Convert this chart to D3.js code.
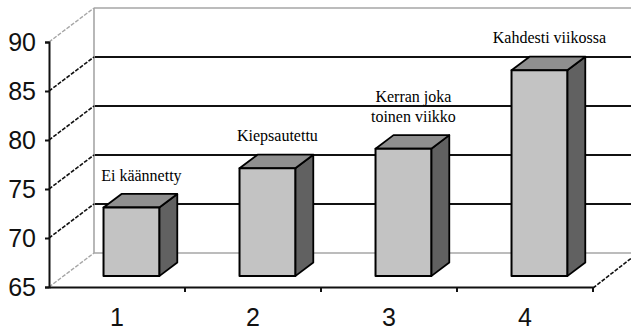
<!DOCTYPE html>
<html>
<head>
<meta charset="utf-8">
<script src="https://cdn.jsdelivr.net/npm/d3@7/dist/d3.min.js"></script>
<style>
  html, body { margin: 0; padding: 0; background: #fff; }
  svg { display: block; }
  .bar-label { font-family: "Liberation Serif", "Times New Roman", serif; font-size: 16px; }
  .axis-label { font-family: "Liberation Sans", Arial, sans-serif; font-size: 25px; }
</style>
</head>
<body>
<svg id="chart" width="631" height="332"></svg>
<script>
// Chart data
const categories = ["1", "2", "3", "4"];
const values = [72, 76, 78, 86];
const barLabels = [
  ["Ei käännetty"],
  ["Kiepsautettu"],
  ["Kerran joka", "toinen viikko"],
  ["Kahdesti viikossa"]
];
const yTicks = [65, 70, 75, 80, 85, 90];

// Layout
const W = 631, H = 332;
const axisLeft = 49, axisRight = 593;
const depthX = 45, depthY = -34;   // offset from front plane to back wall
const barFront = 0.32, barBack = 0.72; // bar depth as fraction of floor depth
const barWidthFrac = 0.41;

const svg = d3.select("#chart");

const x = d3.scaleBand().domain(categories).range([axisLeft, axisRight]);
const y = d3.scaleLinear().domain([65, 90]).range([287, 42]);

const depth = (p, f) => [p[0] + depthX * f, p[1] + depthY * f];

const gridGray = "#a6a6a6";
const lineBlack = "#111";

// Back wall gridlines
const gBack = svg.append("g");
yTicks.forEach(t => {
  const edge = (t === 65 || t === 90);
  const p = depth([axisLeft, y(t)], 1);
  gBack.append("line")
    .attr("x1", p[0]).attr("y1", p[1])
    .attr("x2", W + 10).attr("y2", p[1])
    .attr("stroke", edge ? gridGray : lineBlack)
    .attr("stroke-width", edge ? 1.6 : 2);
});
// Back wall left edge
{
  const pTop = depth([axisLeft, y(90)], 1);
  const pBot = depth([axisLeft, y(65)], 1);
  gBack.append("line")
    .attr("x1", pTop[0]).attr("y1", pTop[1])
    .attr("x2", pBot[0]).attr("y2", pBot[1])
    .attr("stroke", gridGray).attr("stroke-width", 1.6);
}
// Side wall diagonals
yTicks.forEach(t => {
  const edge = (t === 65 || t === 90);
  const p0 = [axisLeft, y(t)];
  const p1 = depth(p0, 1);
  gBack.append("line")
    .attr("x1", p0[0]).attr("y1", p0[1])
    .attr("x2", p1[0]).attr("y2", p1[1])
    .attr("stroke", edge ? gridGray : lineBlack)
    .attr("stroke-width", edge ? 1.4 : 1.6)
    .attr("stroke-dasharray", "4,1.5");
});
// Floor right edge
{
  const p0 = [axisRight, y(65)];
  const p1 = depth(p0, 1);
  gBack.append("line")
    .attr("x1", p0[0]).attr("y1", p0[1] + 1)
    .attr("x2", p1[0]).attr("y2", p1[1])
    .attr("stroke", lineBlack).attr("stroke-width", 1.6)
    .attr("stroke-dasharray", "4,1.5");
}

// Bars
const gBars = svg.append("g");
const faceStroke = "#000";
categories.forEach((c, i) => {
  const v = values[i];
  const bw = x.bandwidth() * barWidthFrac;
  const cx = x(c) + x.bandwidth() / 2;
  const fl = depth([cx - bw / 2, y(v)], barFront);
  const fr = depth([cx + bw / 2, y(v)], barFront);
  const flb = depth([cx - bw / 2, y(65)], barFront);
  const frb = depth([cx + bw / 2, y(65)], barFront);
  const d = barBack - barFront;
  const bl = depth(fl, d), br = depth(fr, d), brb = depth(frb, d);

  // side face
  gBars.append("polygon")
    .attr("points", [fr, br, brb, frb].map(p => p.join(",")).join(" "))
    .attr("fill", "#616161").attr("stroke", faceStroke)
    .attr("stroke-width", 1.8).attr("stroke-linejoin", "round");
  // top face
  gBars.append("polygon")
    .attr("points", [fl, fr, br, bl].map(p => p.join(",")).join(" "))
    .attr("fill", "#8f8f8f").attr("stroke", faceStroke)
    .attr("stroke-width", 1.8).attr("stroke-linejoin", "round");
  // front face
  gBars.append("polygon")
    .attr("points", [fl, fr, frb, flb].map(p => p.join(",")).join(" "))
    .attr("fill", "#c3c3c3").attr("stroke", faceStroke)
    .attr("stroke-width", 2).attr("stroke-linejoin", "round");

  // bar label
  const lines = barLabels[i];
  const lx = cx + depthX * barFront + 10;
  const lastBaseline = fl[1] - 27;
  const t = gBars.append("text")
    .attr("class", "bar-label")
    .attr("x", lx)
    .attr("text-anchor", "middle")
    .attr("fill", "#000");
  lines.forEach((ln, k) => {
    t.append("tspan")
      .attr("x", lx)
      .attr("y", lastBaseline - (lines.length - 1 - k) * 20)
      .text(ln);
  });
});

// Front axes
const gAxis = svg.append("g");
// value axis
const yAxis = d3.axisLeft(y).tickValues(yTicks).tickSize(4).tickPadding(9);
gAxis.append("g")
  .attr("transform", `translate(${axisLeft},0)`)
  .call(yAxis)
  .call(g => {
    g.attr("font-family", null).attr("font-size", null);
    g.select(".domain").attr("stroke", lineBlack).attr("stroke-width", 2);
    g.selectAll(".tick line").attr("stroke", lineBlack).attr("stroke-width", 2);
    g.selectAll(".tick text").attr("class", "axis-label").attr("fill", "#111");
  });

// category axis
const xAxis = d3.axisBottom(x).tickSize(0).tickPadding(0);
gAxis.append("g")
  .attr("transform", `translate(0,${y(65)})`)
  .call(xAxis)
  .call(g => {
    g.attr("font-family", null).attr("font-size", null);
    g.select(".domain").attr("stroke", lineBlack).attr("stroke-width", 2);
    g.selectAll(".tick text")
      .attr("class", "axis-label")
      .attr("dy", 0)
      .attr("y", 39)
      .attr("fill", "#111");
  });
// category boundary ticks
gAxis.selectAll("line.cat-tick")
  .data(categories.slice(1).map(c => x(c)).concat([axisRight]))
  .enter().append("line")
  .attr("class", "cat-tick")
  .attr("x1", d => d).attr("x2", d => d)
  .attr("y1", y(65)).attr("y2", y(65) + 5)
  .attr("stroke", lineBlack).attr("stroke-width", 2);
</script>
</body>
</html>
